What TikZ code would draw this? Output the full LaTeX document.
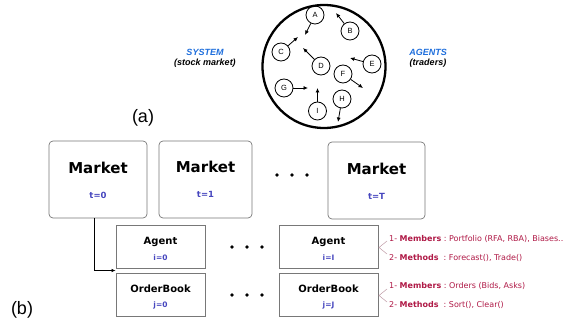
\documentclass[tikz,border=0pt]{standalone}
\usepackage{fontspec}
\setmainfont{DejaVu Sans}
\newfontfamily\arial{Liberation Sans}
\usetikzlibrary{arrows.meta}
\definecolor{sysblue}{RGB}{30,110,220}
\definecolor{lblblue}{RGB}{70,70,190}
\definecolor{crim}{RGB}{175,25,70}
\definecolor{boxgray}{RGB}{120,120,120}
\begin{document}
\begin{tikzpicture}[x=1pt,y=-1pt,
  agentc/.style={circle, draw, line width=0.8pt, minimum size=18pt, inner sep=0pt, font=\arial\fontsize{7.5}{8}\selectfont},
  flow/.style={-{Latex[length=4.5pt,width=4pt]}, line width=0.8pt},
  mkt/.style={draw=boxgray, rounded corners=4pt, line width=0.7pt, minimum height=77pt},
  obox/.style={draw=boxgray, line width=0.7pt, minimum height=43pt},
  mtitle/.style={font=\bfseries\fontsize{15}{17}\selectfont},
  otitle/.style={font=\bfseries\fontsize{10}{12}\selectfont},
  tlab/.style={text=lblblue, font=\bfseries\fontsize{8.5}{10}\selectfont},
  slab/.style={text=lblblue, font=\bfseries\fontsize{7.5}{9}\selectfont},
  dot/.style={circle, fill, inner sep=0pt, minimum size=3.6pt},
  rtext/.style={anchor=west, text=crim, font=\fontsize{8}{9.5}\selectfont, inner sep=0pt},
  sysl/.style={font=\arial\bfseries\itshape\fontsize{9}{10}\selectfont, align=center},
  big/.style={font=\arial\fontsize{18}{20}\selectfont},
  brk/.style={draw=crim!40!gray!60, line width=0.5pt}
]
\useasboundingbox (0,0) rectangle (576,331);

% ---- (a) ----
\node[draw, circle, line width=2.3pt, minimum size=123pt, inner sep=0pt] (sys) at (324,66.5) {};
\node[agentc] (A) at (315,15) {A};
\node[agentc] (B) at (350,31) {B};
\node[agentc] (C) at (281,52) {C};
\node[agentc] (D) at (321,66) {D};
\node[agentc] (E) at (372,64) {E};
\node[agentc] (F) at (343,74) {F};
\node[agentc] (G) at (284,88) {G};
\node[agentc] (H) at (342,99) {H};
\node[agentc] (I) at (317.5,111) {I};
\coordinate (tA) at (305,35);
\coordinate (tB) at (336,13);
\coordinate (tC) at (298,37);
\coordinate (tD) at (303,48);
\coordinate (tE) at (350,58);
\coordinate (tF) at (363,88);
\coordinate (tG) at (308,88);
\coordinate (tH) at (338,122);
\coordinate (tI) at (317.5,88);
\foreach \n in {A,B,C,D,E,F,G,H,I} \draw[flow] (\n) -- (t\n);

\node[sysl] (syslab) at (205,58) {\textcolor{sysblue}{SYSTEM}\\(stock market)};
\node[sysl] (aglab) at (428,58) {\textcolor{sysblue}{AGENTS}\\(traders)};
\node[big] (la) at (143,118) {(a)};
\node[big] (lb) at (22,310) {(b)};

% ---- (b) markets ----
\node[mkt, minimum width=98pt] (m1) at (98,179.5) {};
\node[mkt, minimum width=93pt] (m2) at (205.5,179.5) {};
\node[mkt, minimum width=97pt] (m3) at (376.5,180.5) {};
\node[mtitle] (m1t) at (98,168) {Market};
\node[mtitle] (m2t) at (205.5,167) {Market};
\node[mtitle] (m3t) at (376.5,169) {Market};
\node[tlab] (m1l) at (98,195) {t=0};
\node[tlab] (m2l) at (205.5,194) {t=1};
\node[tlab] (m3l) at (376.5,196) {t=T};
\node[dot] (md1) at (277,175) {};
\node[dot] (md2) at (292,175) {};
\node[dot] (md3) at (307,175) {};

% ---- agents / order books ----
\node[obox, minimum width=89pt] (a1) at (160.5,246.5) {};
\node[obox, minimum width=99pt] (a2) at (328.5,246.5) {};
\node[obox, minimum width=89pt] (o1) at (160.5,294.5) {};
\node[obox, minimum width=99pt] (o2) at (328.5,294.5) {};
\node[otitle] (a1t) at (160.5,242) {Agent};
\node[otitle] (a2t) at (328.5,242) {Agent};
\node[otitle] (o1t) at (160.5,289) {OrderBook};
\node[otitle] (o2t) at (328.5,289) {OrderBook};
\node[slab] (a1l) at (160.5,258) {i=0};
\node[slab] (a2l) at (328.5,258) {i=I};
\node[slab] (o1l) at (160.5,305) {j=0};
\node[slab] (o2l) at (328.5,305) {j=J};
\foreach \y/\k in {247/a,295/o}{
  \node[dot] (\k d1) at (232,\y) {};
  \node[dot] (\k d2) at (247,\y) {};
  \node[dot] (\k d3) at (262,\y) {};
}

% connector
\coordinate (m1b) at (94,218);
\coordinate (cend) at (115.5,270.5);
\draw[line width=0.6pt, -{Latex[length=4pt,width=3.5pt]}] (m1.south -| m1b) |- (cend);

% brackets and descriptions
\draw[brk] (387,241) -- (379,247.5) -- (387,254);
\draw[brk] (387,289) -- (379,295.5) -- (387,302);
\node[rtext] (r1) at (389,239) {1-~\textbf{Members}~:~Portfolio (RFA, RBA), Biases..};
\node[rtext] (r2) at (389,258) {2-~\textbf{Methods}~~:~Forecast(), Trade()};
\node[rtext] (r3) at (389,286) {1-~\textbf{Members}~:~Orders (Bids, Asks)};
\node[rtext] (r4) at (389,305) {2-~\textbf{Methods}~~:~Sort(), Clear()};
\end{tikzpicture}
\end{document}
